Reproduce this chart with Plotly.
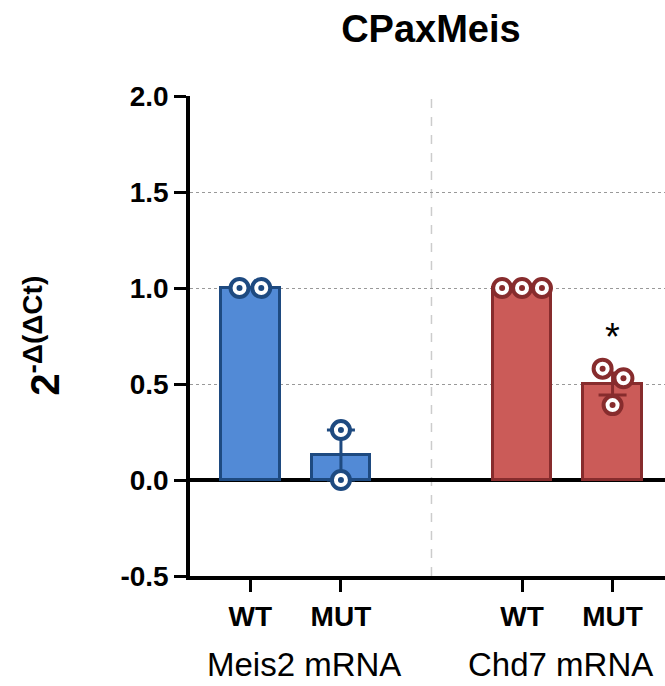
import plotly.graph_objects as go

# ---- data ----
genes = ["Meis2 mRNA", "Chd7 mRNA"]
genotypes = ["WT", "MUT"]
bar_means = [1.0, 0.13, 1.0, 0.50]          # Meis2 WT, Meis2 MUT, Chd7 WT, Chd7 MUT
bar_errs = [0.0, 0.13, 0.0, 0.057]
pts_meis2_wt = [1.0, 1.0]
pts_meis2_mut = [0.26, 0.0]
pts_chd7_wt = [1.0, 1.0, 1.0]
pts_chd7_mut = [0.58, 0.53, 0.39]
tick_labels = ["WT", "MUT", "WT", "MUT"]
star_text = "*"
star_value = 0.745
title_text = "CPaxMeis"
ytitle = "2<sup>-Δ(ΔCt)</sup>"
y_ticks = [-0.5, 0.0, 0.5, 1.0, 1.5, 2.0]

# ---- layout helpers ----
positions = [0, 1, 3, 4]
jitter = [[-0.12, 0.12], [0.0, 0.0], [-0.22, 0.0, 0.22], [-0.11, 0.12, 0.0]]
points = [pts_meis2_wt, pts_meis2_mut, pts_chd7_wt, pts_chd7_mut]
group_label_x = [0.59, 3.43]

blue_fill, blue_line = "#528AD6", "#1E4A80"
red_fill, red_line = "#CB5B58", "#872C2D"
fills = [blue_fill, blue_fill, red_fill, red_fill]
lines = [blue_line, blue_line, red_line, red_line]
FONT = "Liberation Sans, Arial, sans-serif"

fig = go.Figure()

for i in range(4):
    fig.add_trace(go.Bar(
        x=[positions[i]], y=[bar_means[i]], width=0.65,
        marker=dict(color=fills[i], line=dict(color=lines[i], width=3)),
        showlegend=False, hoverinfo="skip"))

for i in range(4):
    if bar_errs[i] > 0:
        fig.add_trace(go.Scatter(
            x=[positions[i]], y=[bar_means[i]], mode="markers",
            marker=dict(size=1, color="rgba(0,0,0,0)"),
            error_y=dict(type="data", array=[bar_errs[i]], color=lines[i],
                         thickness=3, width=14),
            showlegend=False, hoverinfo="skip"))

for i in range(4):
    xs = [positions[i] + j for j in jitter[i]]
    fig.add_trace(go.Scatter(
        x=xs, y=points[i], mode="markers",
        marker=dict(size=18, color="white", line=dict(color=lines[i], width=4)),
        showlegend=False, hoverinfo="skip", cliponaxis=False))
    fig.add_trace(go.Scatter(
        x=xs, y=points[i], mode="markers",
        marker=dict(size=6, color=lines[i]),
        showlegend=False, hoverinfo="skip", cliponaxis=False))

# separator
fig.add_shape(type="line", x0=2, x1=2, y0=-0.5, y1=2.0, xref="x", yref="y",
              line=dict(color="#cccccc", width=1.5, dash="dash"), layer="below")

# star
fig.add_annotation(x=positions[3], y=star_value, text=star_text, showarrow=False,
                   font=dict(family=FONT, size=38, color="black"))

# group labels
for k, g in enumerate(genes):
    fig.add_annotation(x=group_label_x[k], xref="x", y=-0.2275, yref="paper", text=g,
                       showarrow=False, yanchor="bottom",
                       font=dict(family=FONT, size=33, color="black"))

# y title
fig.add_annotation(x=-0.312, xref="paper", y=0.5, yref="paper",
                   text="<b>" + ytitle + "</b>", textangle=-90, showarrow=False,
                   xanchor="center", yanchor="middle",
                   font=dict(family=FONT, size=40, color="black"))

fig.update_layout(
    width=665, height=686,
    margin=dict(l=190, r=0, t=96, b=110),
    paper_bgcolor="white", plot_bgcolor="white",
    title=dict(text="<b>" + title_text + "</b>", x=0.648, xanchor="center",
               y=1 - 29 / 686, yanchor="middle",
               font=dict(family=FONT, size=38, color="black")),
    bargap=0,
    xaxis=dict(range=[-0.667, 4.579], tickmode="array", tickvals=positions,
               ticktext=["<b>" + t + "</b>" for t in tick_labels],
               showline=True, linecolor="black", linewidth=4,
               ticks="outside", ticklen=12, tickwidth=3, tickcolor="black",
               ticklabelstandoff=0,
               showgrid=False, zeroline=False,
               tickfont=dict(family=FONT, size=28, color="black")),
    yaxis=dict(range=[-0.5, 2.0], tickmode="array", tickvals=y_ticks,
               ticktext=["<b>%.1f</b>" % v for v in y_ticks],
               showline=True, linecolor="black", linewidth=3.5,
               ticks="outside", ticklen=12, tickwidth=3, tickcolor="black",
               showgrid=True, gridcolor="#999999", gridwidth=1, griddash="dot",
               zeroline=True, zerolinecolor="black", zerolinewidth=4,
               tickfont=dict(family=FONT, size=28, color="black")),
)

fig.write_html("out.html")
